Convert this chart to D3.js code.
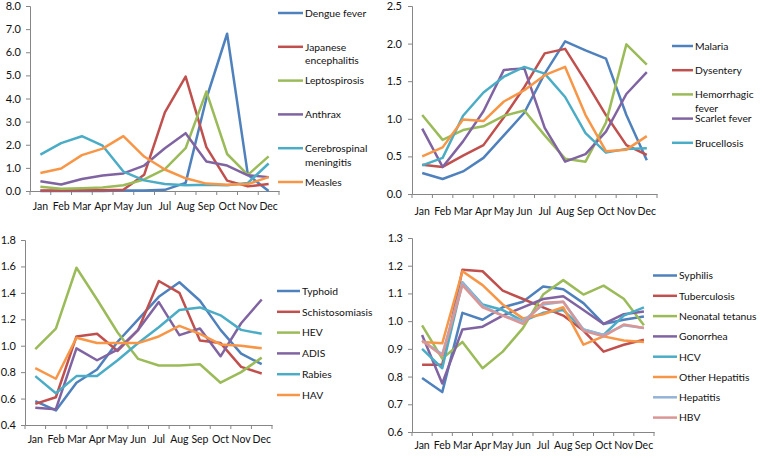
<!DOCTYPE html>
<html><head><meta charset="utf-8">
<script src="https://cdn.jsdelivr.net/npm/d3@7"></script>
<style>
body{margin:0;background:#fff;}
svg text{font-family:Lato,"Open Sans",sans-serif;}
</style></head>
<body><svg id="c" width="762" height="458"></svg>
<script>
const months = ["Jan","Feb","Mar","Apr","May","Jun","Jul","Aug","Sep","Oct","Nov","Dec"];

// Panel 1
const p1Names = ["Dengue fever","Japanese\nencephalitis","Leptospirosis","Anthrax","Cerebrospinal\nmeningitis","Measles"];
const dengue = [0.0,0.0,0.0,0.0,0.02,0.02,0.05,0.35,4.0,6.8,0.7,0.0];
const japEnc = [0.02,0.02,0.03,0.03,0.05,0.7,3.4,4.95,1.9,0.45,0.2,0.3];
const lepto = [0.18,0.1,0.12,0.15,0.25,0.5,0.95,1.85,4.3,1.6,0.7,1.5];
const anthrax = [0.42,0.28,0.52,0.67,0.76,1.1,1.85,2.5,1.28,1.1,0.68,0.6];
const cereb = [1.57,2.07,2.37,1.96,0.84,0.46,0.3,0.25,0.27,0.25,0.35,1.19];
const measles = [0.78,0.97,1.55,1.83,2.37,1.49,0.93,0.55,0.32,0.27,0.3,0.6];
const p1Ticks = [0,1,2,3,4,5,6,7,8];

// Panel 2
const p2Names = ["Malaria","Dysentery","Hemorrhagic\nfever","Scarlet fever","Brucellosis"];
const malaria = [0.28,0.2,0.3,0.48,0.78,1.08,1.6,2.03,1.91,1.8,1.05,0.45];
const dysentery = [0.39,0.36,0.51,0.65,1.02,1.42,1.87,1.93,1.5,1.05,0.65,0.52];
const hemFever = [1.05,0.72,0.85,0.9,1.04,1.11,0.78,0.47,0.43,0.95,1.99,1.72];
const scarlet = [0.87,0.36,0.7,1.1,1.65,1.67,0.88,0.43,0.53,0.83,1.33,1.62];
const brucell = [0.38,0.48,1.04,1.35,1.56,1.69,1.6,1.29,0.81,0.55,0.6,0.61];
const p2Unlabeled = [0.5,0.62,0.99,0.97,1.23,1.38,1.58,1.69,1.05,0.57,0.59,0.77];
const p2Ticks = [0,0.5,1,1.5,2,2.5];

// Panel 3
const p3Names = ["Typhoid","Schistosomiasis","HEV","ADIS","Rabies","HAV"];
const typhoid = [0.58,0.51,0.72,0.82,1.03,1.2,1.37,1.48,1.34,1.12,0.94,0.86];
const schisto = [0.56,0.61,1.07,1.09,0.96,1.12,1.49,1.4,1.04,1.02,0.84,0.79];
const hev = [0.975,1.13,1.59,1.35,1.1,0.9,0.85,0.85,0.86,0.72,0.8,0.91];
const adis = [0.53,0.52,0.98,0.89,0.97,1.12,1.33,1.08,1.13,0.92,1.17,1.35];
const rabies = [0.77,0.64,0.77,0.77,0.89,1.02,1.14,1.27,1.29,1.23,1.12,1.09];
const hav = [0.83,0.75,1.06,1.02,1.02,1.02,1.07,1.15,1.09,1.01,1.0,0.98];
const p3Ticks = [0.4,0.6,0.8,1.0,1.2,1.4,1.6,1.8];

// Panel 4
const p4Names = ["Syphilis","Tuberculosis","Neonatal tetanus","Gonorrhea","HCV","Other Hepatitis","Hepatitis","HBV"];
const syphilis = [0.795,0.744,1.03,1.005,1.05,1.07,1.125,1.115,1.065,0.99,1.005,1.017];
const tuberc = [0.843,0.843,1.185,1.18,1.11,1.08,1.05,1.02,0.966,0.89,0.915,0.933];
const neoTet = [0.985,0.865,0.925,0.83,0.89,0.975,1.096,1.148,1.096,1.128,1.081,0.985];
const gonorr = [0.95,0.775,0.97,0.98,1.02,1.05,1.08,1.09,1.04,0.99,1.025,1.035];
const hcv = [0.9,0.83,1.14,1.06,1.04,1.0,1.03,1.04,0.97,0.95,1.02,1.05];
const otherHep = [0.925,0.92,1.18,1.13,1.06,1.01,1.025,1.05,0.915,0.945,0.93,0.925];
const hepatitis = [0.93,0.88,1.14,1.055,1.02,1.0,1.06,1.07,0.97,0.95,0.985,0.975];
const hbv = [0.93,0.875,1.13,1.05,1.02,0.99,1.066,1.07,0.965,0.945,0.988,0.975];
const p4Ticks = [0.6,0.7,0.8,0.9,1.0,1.1,1.2,1.3];

const palette = ["#4F81BD","#C0504D","#9BBB59","#8064A2","#4BACC6","#F79646","#95B3D7","#D99694"];

const svg = d3.select("#c");

function panel(cfg){
  const g = svg.append("g");
  const x = d3.scaleBand().domain(months).range([cfg.x0, cfg.x1]);
  const y = d3.scaleLinear().domain([cfg.ticks[0], cfg.ticks[cfg.ticks.length-1]]).range([cfg.yb, cfg.yt]);
  const fmt = d3.format(".1f");
  const ya = g.append("g").attr("transform",`translate(${cfg.x0},0)`)
    .call(d3.axisLeft(y).tickValues(cfg.ticks).tickFormat(fmt).tickSize(4).tickPadding(cfg.ypad));
  ya.select(".domain").attr("stroke","#868686");
  ya.selectAll(".tick line").attr("stroke","#868686");
  ya.selectAll("text").attr("font-size",11).attr("fill","#111");
  const xa = g.append("g").attr("transform",`translate(0,${cfg.yb})`)
    .call(d3.axisBottom(x).tickSize(0).tickPadding(cfg.xpad));
  xa.select(".domain").attr("stroke","#868686");
  xa.selectAll("text").attr("font-size",10.5).attr("fill","#111");
  const bounds = months.map(m => x(m)).concat([cfg.x1]);
  g.selectAll("line.xt").data(bounds).enter().append("line")
    .attr("x1",d=>d).attr("x2",d=>d).attr("y1",cfg.yb).attr("y2",cfg.yb+4)
    .attr("stroke","#868686");
  const line = d3.line().x((d,i)=>x(months[i])+x.bandwidth()/2).y(d=>y(d));
  cfg.series.forEach((s,i)=>{
    g.append("path").datum(s).attr("d",line).attr("fill","none")
      .attr("stroke",cfg.colors[i]).attr("stroke-width",2.5).attr("stroke-linejoin","round");
  });
  cfg.names.forEach((n,i)=>{
    const ly = cfg.ly0 + cfg.lstep*i;
    g.append("line").attr("x1",cfg.lx0).attr("x2",cfg.lx1).attr("y1",ly).attr("y2",ly)
      .attr("stroke",cfg.colors[i]).attr("stroke-width",2.5);
    const t = g.append("text").attr("x",cfg.lx1+2).attr("y",ly+3.8).attr("font-size",10.3).attr("fill","#111");
    n.split("\n").forEach((part,k)=>{
      t.append("tspan").attr("x",cfg.lx1+2).attr("dy",k===0?0:13.5).text(part);
    });
  });
}

panel({x0:30,x1:279,yt:6,yb:191,ticks:p1Ticks,ypad:5,xpad:12,
  series:[dengue,japEnc,lepto,anthrax,cereb,measles],names:p1Names,colors:palette.slice(0,6),
  lx0:278,lx1:303,ly0:13,lstep:33.8});
panel({x0:412,x1:657,yt:6,yb:194,ticks:p2Ticks,ypad:6,xpad:14,
  series:[malaria,dysentery,hemFever,scarlet,brucell,p2Unlabeled],names:p2Names,
  colors:[palette[0],palette[1],palette[2],palette[3],palette[4],palette[5]],
  lx0:672,lx1:693,ly0:46,lstep:24.2});
panel({x0:25,x1:272,yt:240,yb:425,ticks:p3Ticks,ypad:5,xpad:11,
  series:[typhoid,schisto,hev,adis,rabies,hav],names:p3Names,colors:palette.slice(0,6),
  lx0:277,lx1:300,ly0:291,lstep:20.8});
panel({x0:412,x1:654,yt:238,yb:432,ticks:p4Ticks,ypad:5,xpad:10,
  series:[syphilis,tuberc,neoTet,gonorr,hcv,otherHep,hepatitis,hbv],names:p4Names,colors:palette,
  lx0:653,lx1:677,ly0:275.5,lstep:20.3});
</script></body></html>
